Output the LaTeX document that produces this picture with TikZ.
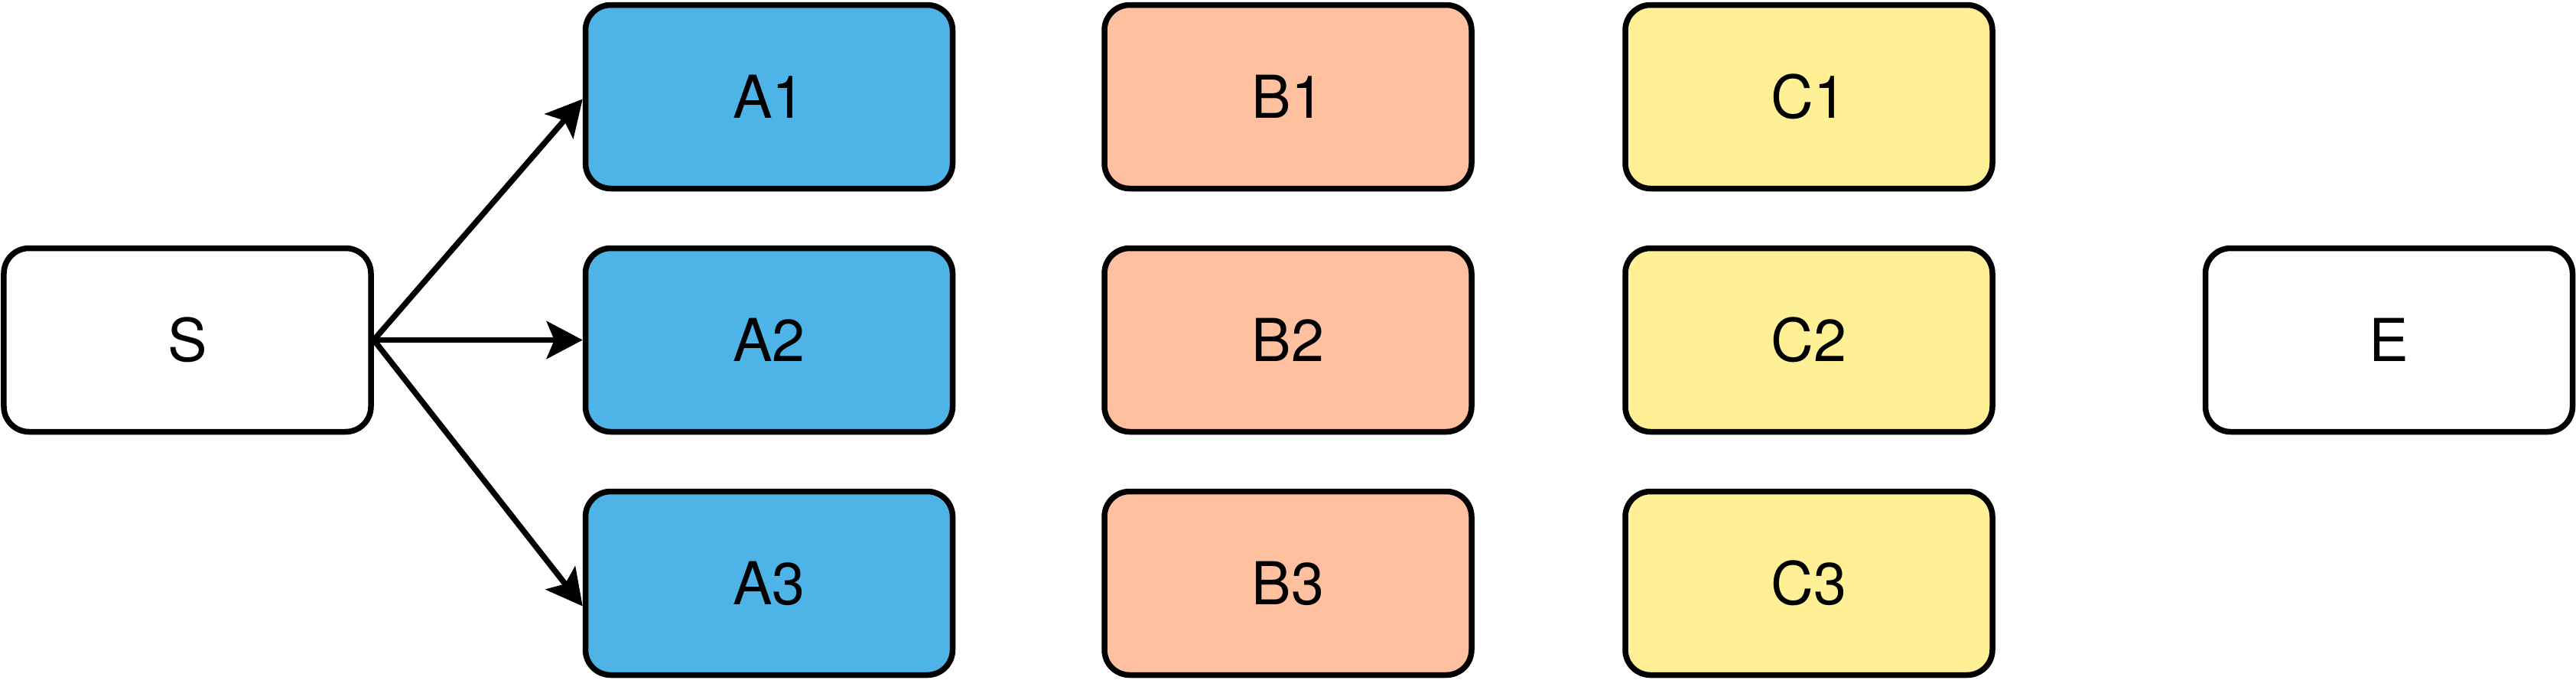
\documentclass[tikz,border=0pt]{standalone}
\usepackage{fontspec}
\setmainfont{TeX Gyre Heros}
\usetikzlibrary{arrows.meta}
\usetikzlibrary{positioning}

\definecolor{stageA}{RGB}{78,179,230}
\definecolor{stageB}{RGB}{255,192,159}
\definecolor{stageC}{RGB}{255,240,150}

\begin{document}
\begin{tikzpicture}[minimum width = 4.8cm, minimum height = 2.4cm,
    	task/.style = {draw, rounded corners = 0.33cm, line width = 0.075cm, font = \fontsize{22}{26}\selectfont},
    	edge/.style = {line width = 0.075cm, arrows = {-Stealth[width = 0.49cm, length = 0.47cm, inset = 0.1cm]}}]
    	\useasboundingbox (0,0) rectangle (33.68,8.88);
    	\node[task] (S) at (2.45,4.435) {S};
    	\node[task, fill = stageA] (A2) [right of=S, node distance = 7.605cm] {A2};
    	\node[task, fill = stageA] (A1) [above of=A2, node distance = 3.18cm] {A1};
    	\node[task, fill = stageA] (A3) [below of=A2, node distance = 3.18cm] {A3};
    	\node[task, fill = stageB] (B2) [right of=A2, node distance = 6.785cm] {B2};
    	\node[task, fill = stageB] (B1) [above of=B2, node distance = 3.18cm] {B1};
    	\node[task, fill = stageB] (B3) [below of=B2, node distance = 3.18cm] {B3};
    	\node[task, fill = stageC] (C2) [right of=B2, node distance = 6.81cm] {C2};
    	\node[task, fill = stageC] (C1) [above of=C2, node distance = 3.18cm] {C1};
    	\node[task, fill = stageC] (C3) [below of=C2, node distance = 3.18cm] {C3};
    	\node[task] (E) [right of=C2, node distance = 7.585cm] {E};
    	\draw (S.east)[edge] -- ([yshift=-0.03cm]A1.west);
    	\draw (S.east)[edge] -- (A2.west);
    	\draw (S.east)[edge] -- ([yshift=-0.3cm]A3.west);
    \end{tikzpicture}
\end{document}
